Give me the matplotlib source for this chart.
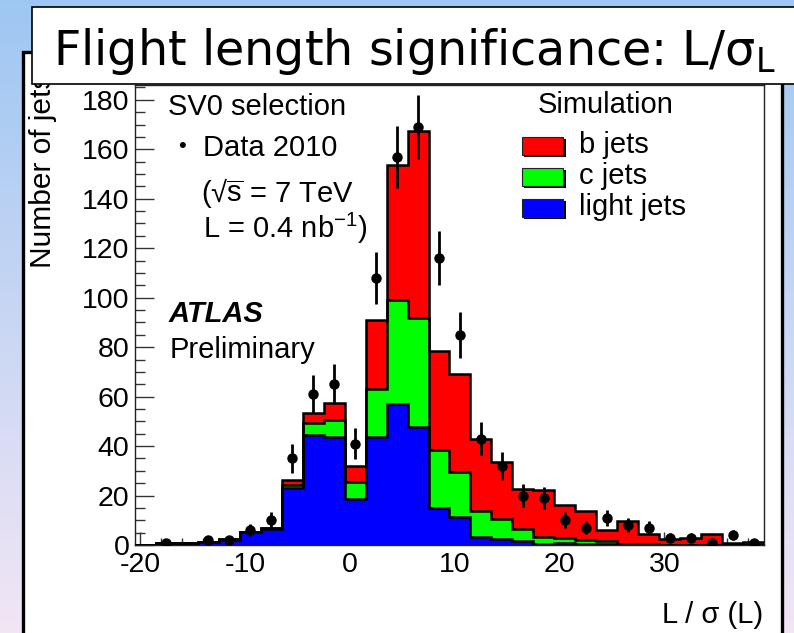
import numpy as np
import matplotlib.pyplot as plt
from matplotlib.patches import Rectangle
from matplotlib.ticker import MultipleLocator

plt.rcParams['font.family'] = ['Liberation Sans', 'DejaVu Sans']
plt.rcParams['mathtext.fontset'] = 'custom'
plt.rcParams['mathtext.rm'] = 'Liberation Sans'
plt.rcParams['mathtext.it'] = 'Liberation Sans:italic'
plt.rcParams['axes.unicode_minus'] = False

# histogram binning (L / sigma(L)), 30 bins of width 2
bin_lo = -20.5
bin_w = 2.0
n_bins = 30

# simulation, per flavour (stacked)
light_jets = [0, 0.7, 0.7, 1.3, 2.2, 5.2, 6.6, 23.2, 44.4, 43.8, 18.6, 43.8, 57.0, 47.9, 15.0,
              11.5, 3.1, 2.4, 1.5, 0.5, 0.8, 0.4, 0.3, 0.2, 0.1, 0.1, 0.1, 0.1, 0.1, 0.0]
c_jets = [0, 0, 0, 0.1, 0.1, 0.1, 0.2, 1.2, 5.1, 6.7, 6.8, 19.3, 42.1, 44.0, 23.5,
          18.1, 10.7, 8.1, 4.9, 2.6, 2.2, 1.6, 1.2, 0.3, 0.2, 0.1, 0.1, 0.1, 0.1, 0.0]
b_jets = [0, 0, 0, 0, 0, 0.1, 0.1, 1.8, 3.8, 6.8, 6.5, 27.8, 54.5, 75.3, 40.0,
          39.6, 29.0, 23.2, 16.3, 19.0, 13.0, 11.6, 4.6, 9.4, 4.0, 2.1, 2.5, 4.1, 0.7, 1.3]

# data 2010
data = [0, 1, 0, 2, 2, 6, 10, 35, 61, 65, 41, 108, 157, 169, 116,
        85, 43, 32, 20, 19, 10, 7, 11, 8, 7, 3, 3, 1, 4, 1]
data_err = [0, 1.0, 0, 1.4, 1.4, 2.4, 3.2, 5.9, 7.8, 8.1, 6.4, 10.4, 12.5, 13.0, 10.8,
            9.2, 6.6, 5.7, 4.5, 4.4, 3.2, 2.6, 3.3, 2.8, 2.6, 1.7, 1.7, 1.0, 2.0, 1.0]

x_ticks = [-20, -10, 0, 10, 20, 30]
y_ticks = [0, 20, 40, 60, 80, 100, 120, 140, 160, 180]

W, H = 794, 633


def fx(px):
    return px / W


def fy(py):
    return 1 - py / H


fig = plt.figure(figsize=(W / 100, H / 100), dpi=100)

# slide background gradient
bg = fig.add_axes([0, 0, 1, 1], zorder=-3)
top_c = np.array([0.62, 0.78, 0.95])
bot_c = np.array([0.95, 0.90, 0.96])
t = np.linspace(0, 1, 256)[:, None]
grad = (1 - t) * top_c + t * bot_c
bg.imshow(grad[:, None, :], aspect='auto', extent=[0, 1, 0, 1])
bg.axis('off')

# white panel
fig.patches.append(Rectangle((fx(22.5), fy(660)), fx(781.5) - fx(22.5), fy(52) - fy(660),
                             transform=fig.transFigure, facecolor='white',
                             edgecolor='black', lw=2.4, zorder=-2))

# title box
fig.patches.append(Rectangle((fx(32), fy(84)), fx(820) - fx(32), fy(7.5) - fy(84),
                             transform=fig.transFigure, facecolor='white',
                             edgecolor='black', lw=1.2, zorder=5))
fig.text(fx(53), fy(65), r'Flight length significance: $\mathregular{L/σ_L}$',
         family='DejaVu Sans', fontsize=34.3, va='baseline', ha='left', zorder=6)

# main plot
ax = fig.add_axes([fx(135), fy(545), fx(764) - fx(135), fy(85) - fy(545)], zorder=0)
edges = bin_lo + bin_w * np.arange(n_bins + 1)
centers = edges[:-1] + bin_w / 2

light = np.array(light_jets)
lc = light + np.array(c_jets)
total = lc + np.array(b_jets)

for level, col in [(total, '#ff0000'), (lc, '#00ff00'), (light, '#0000ff')]:
    ax.stairs(level, edges, fill=True, color=col, zorder=2)
    ax.stairs(level, edges, fill=False, color='black', lw=1.8, zorder=3)

d = np.array(data, dtype=float)
e = np.array(data_err)
m = d > 0
ax.errorbar(centers[m], d[m], yerr=e[m], fmt='o', color='black', ms=6.5,
            elinewidth=2, capsize=0, zorder=4)

ax.set_xlim(bin_lo, bin_lo + n_bins * bin_w)
ax.set_ylim(0, 186)
ax.set_xticks(x_ticks)
ax.set_yticks(y_ticks)
ax.xaxis.set_minor_locator(MultipleLocator(2))
ax.yaxis.set_minor_locator(MultipleLocator(5))
ax.tick_params(axis='both', which='both', direction='in', top=False, right=False,
               labelsize=20.5, color='#333333', width=1)
ax.tick_params(axis='y', which='major', length=13.5, pad=4)
ax.tick_params(axis='y', which='minor', length=7)
ax.tick_params(axis='x', which='major', length=9.5, pad=5)
ax.tick_params(axis='x', which='minor', length=5)
for s in ax.spines.values():
    s.set_linewidth(1)
    s.set_color('#222222')

# axis titles
fig.text(fx(763), fy(623), 'L / σ (L)', fontsize=21, ha='right', va='baseline')
fig.text(fx(43), fy(268), 'Number of jets', fontsize=21.5, rotation=90,
         ha='center', va='bottom', zorder=1)

# annotations
fs = 21
fig.text(fx(168), fy(115), 'SV0 selection', fontsize=fs, va='baseline')
fig.text(fx(182), fy(146.5), '•', fontsize=16, ha='center', va='center')
fig.text(fx(203), fy(156), 'Data 2010', fontsize=fs, va='baseline')
fig.text(fx(201), fy(201.5), r'(√$\overline{\mathregular{s}}$ = 7 TeV', fontsize=fs, va='baseline')
fig.text(fx(203), fy(238), r'L = 0.4 nb$^{\mathregular{-1}}$)', fontsize=fs, va='baseline')
fig.text(fx(169), fy(322.5), 'ATLAS', fontsize=fs, weight='bold', style='italic', va='baseline')
fig.text(fx(170), fy(358), 'Preliminary', fontsize=fs, va='baseline')

# legend
fig.text(fx(606), fy(113), 'Simulation', fontsize=fs, ha='center', va='baseline')
legend_rows = [('b jets', '#ff0000', 137, 153), ('c jets', '#00ff00', 167.5, 183.5),
               ('light jets', '#0000ff', 199, 215)]
for label, col, ytop, base in legend_rows:
    fig.patches.append(Rectangle((fx(524), fy(ytop + 20)), fx(42) - fx(0), fy(0) - fy(18),
                                 transform=fig.transFigure, facecolor='black',
                                 edgecolor='black', lw=0, zorder=2))
    fig.patches.append(Rectangle((fx(522), fy(ytop + 18)), fx(41) - fx(0), fy(0) - fy(18),
                                 transform=fig.transFigure, facecolor=col,
                                 edgecolor='#222222', lw=0.8, zorder=3))
    fig.text(fx(579), fy(base), label, fontsize=fs, va='baseline')

fig.savefig('out.png', dpi=100)
